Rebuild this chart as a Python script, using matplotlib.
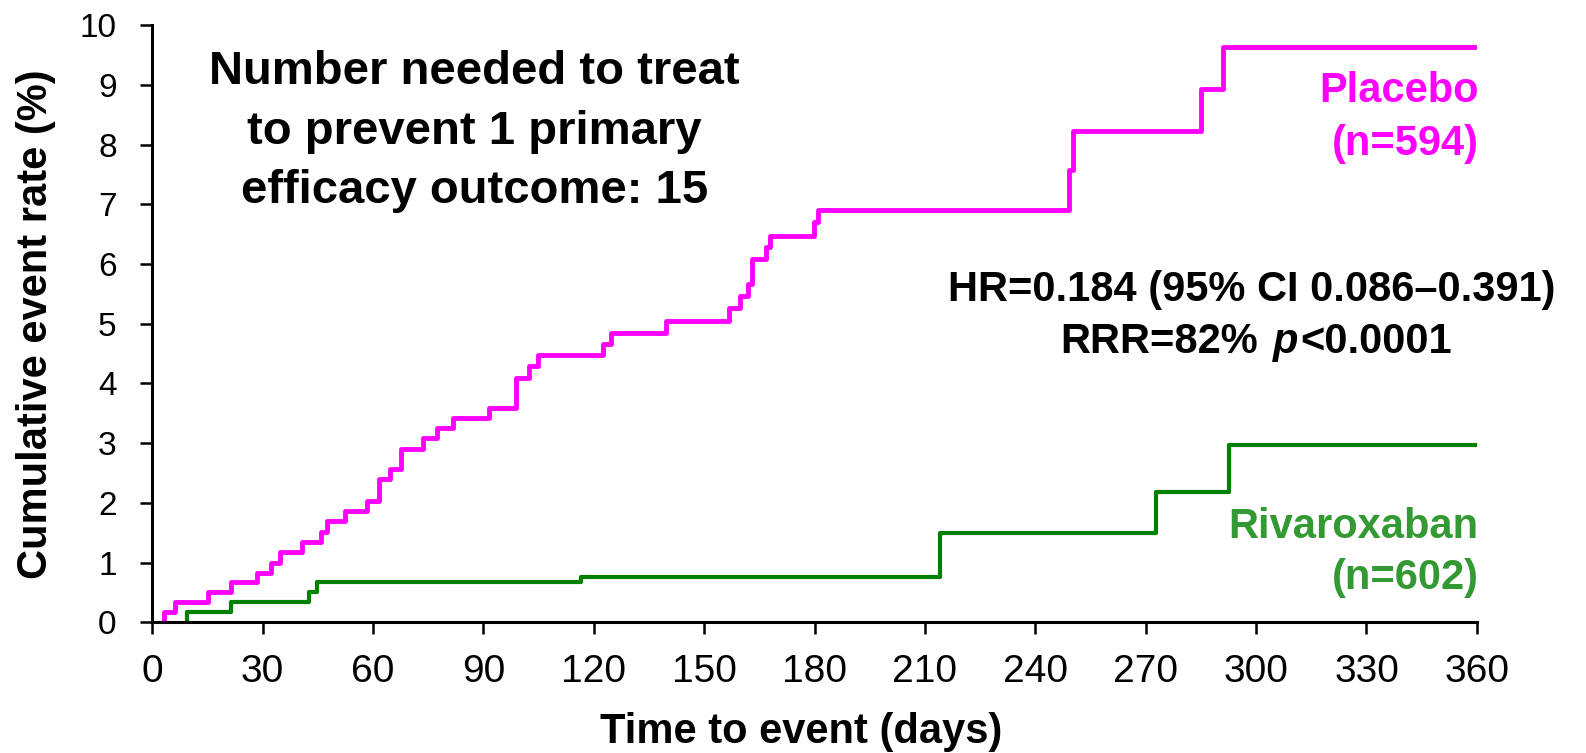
import matplotlib
matplotlib.use('Agg')
import matplotlib.pyplot as plt

plt.rcParams['font.family'] = ['Liberation Sans', 'DejaVu Sans']

# Kaplan-Meier style step data (day of event, cumulative event rate % after it)
placebo_days = [3.2, 6.2, 15.2, 21.4, 28.4, 32.4, 34.7, 40.6, 45.8, 47.4, 52.5, 58.3,
                61.6, 64.6, 67.6, 73.6, 77.5, 81.8, 91.6, 98.8, 102.4, 104.7, 122.6,
                124.6, 139.6, 156.8, 159.7, 161.8, 162.9, 166.7, 167.9, 179.9, 181.0,
                249.1, 250.1, 285.0, 291.0]
placebo_rate = [0.17, 0.34, 0.51, 0.67, 0.83, 1.00, 1.18, 1.35, 1.52, 1.70, 1.87, 2.03,
                2.40, 2.56, 2.90, 3.08, 3.25, 3.43, 3.59, 4.10, 4.30, 4.47, 4.66,
                4.84, 5.04, 5.26, 5.46, 5.67, 6.08, 6.28, 6.47, 6.70, 6.90,
                7.57, 8.23, 8.94, 9.63]

riva_days = [9.5, 21.3, 42.6, 44.7, 116.6, 214.2, 272.9, 292.5]
riva_rate = [0.17, 0.34, 0.50, 0.67, 0.76, 1.49, 2.18, 2.97]

end_day = 360
xticks = list(range(0, 361, 30))
yticks = list(range(0, 11))

magenta = '#FF00FF'
green_line = '#008000'
green_text = '#339933'

fig = plt.figure(figsize=(15.86, 7.53), dpi=100)
ax = fig.add_axes([0.0960, 0.1736, 0.8352, 0.7928])


def steps(days, rate):
    x = [days[0]] + days + [end_day]
    y = [0] + rate + [rate[-1]]
    return x, y


ax.step(*steps(placebo_days, placebo_rate), where='post', color=magenta, lw=3.5)
ax.step(*steps(riva_days, riva_rate), where='post', color=green_line, lw=3.0)

ax.set_xlim(0, 360)
ax.set_ylim(0, 10)
ax.set_xticks(xticks)
ax.set_yticks(yticks)
for s in ['top', 'right']:
    ax.spines[s].set_visible(False)
for s in ['left', 'bottom']:
    ax.spines[s].set_linewidth(2.2)
ax.tick_params(axis='both', direction='out', length=8.6, width=1.8)
ax.tick_params(axis='x', labelsize=28, pad=14)
ax.tick_params(axis='y', labelsize=24, pad=17)

ax.set_xlabel('Time to event (days)', fontsize=30, fontweight='bold')
ax.xaxis.set_label_coords(0.490, -0.150)
ax.set_ylabel('Cumulative event rate (%)', fontsize=30, fontweight='bold')
ax.yaxis.set_label_coords(-0.073, 0.5)

bold = dict(fontweight='bold', va='baseline')

nnt_lines = ['Number needed to treat', 'to prevent 1 primary', 'efficacy outcome: 15']
for i, line in enumerate(nnt_lines):
    ax.text(87.5, 9.01 - i * 0.99, line, ha='center', fontsize=34, color='black', **bold)

for i, line in enumerate(['Placebo', '(n=594)']):
    ax.text(360.5, 8.71 - i * 0.89, line, ha='right', fontsize=30, color=magenta, **bold)

for i, line in enumerate(['Rivaroxaban', '(n=602)']):
    ax.text(360.5, 1.42 - i * 0.86, line, ha='right', fontsize=30, color=green_text, **bold)

ax.text(298.8, 5.39, 'HR=0.184 (95% CI 0.086\u20130.391)', ha='center', fontsize=30,
        color='black', **bold)
t_rrr = ax.text(300.5, 4.51, 'RRR=82%', ha='right', fontsize=30, color='black', **bold)
t_p = ax.annotate('p', xy=(1, 0), xycoords=t_rrr, xytext=(11, 0),
                  textcoords='offset points', ha='left', va='bottom',
                  fontsize=30, fontweight='bold', style='italic')
ax.annotate('<0.0001', xy=(1, 0), xycoords=t_p, xytext=(1, 0),
            textcoords='offset points', ha='left', va='bottom',
            fontsize=30, fontweight='bold')

fig.savefig('out.png', dpi=100)
